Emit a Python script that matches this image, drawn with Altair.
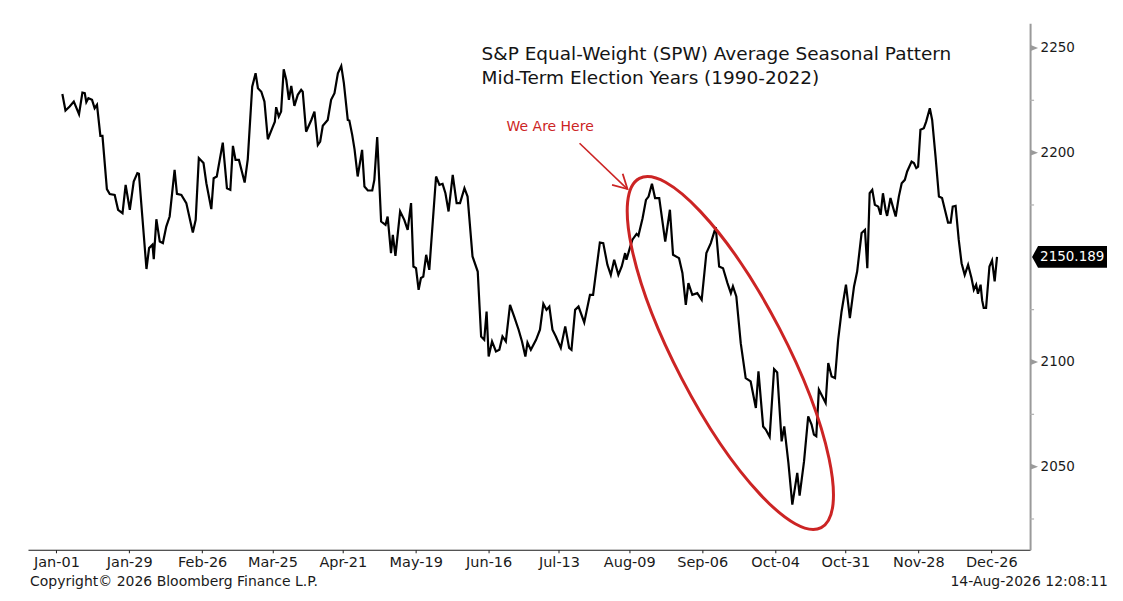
import altair as alt
import pandas as pd

# ---- data ----
days = [2.3,3.5,5.1,6.7,8.7,10.0,10.9,11.5,12.3,13.7,
        14.7,15.6,16.9,17.7,19.4,20.5,22.4,23.7,25.4,26.6,
        28.2,29.7,31.1,31.7,33.0,34.6,35.6,36.9,37.4,38.4,
        39.7,40.9,42.2,43.5,45.4,46.3,48.0,49.9,52.4,53.5,
        54.7,56.5,57.6,59.5,60.4,61.6,63.9,65.5,66.8,67.8,
        68.8,70.1,72.3,73.5,75.2,76.5,77.4,78.7,79.9,81.2,
        82.9,83.9,84.4,85.4,86.3,87.3,88.3,89.3,90.2,91.4,
        92.7,94.0,94.6,95.9,97.9,99.1,100.4,101.3,102.3,104.2,
        105.5,106.8,108.1,109.4,110.4,111.9,112.5,113.6,114.5,115.7,
        117.4,118.3,119.6,121.3,122.1,123.2,124.7,126.4,127.2,128.5,
        129.2,130.2,132.0,133.6,134.9,136.2,137.1,138.1,139.1,140.0,
        140.9,142.0,143.2,145.8,147.1,148.3,149.4,150.6,152.2,153.7,
        155.0,156.7,157.9,159.8,161.8,163.1,164.3,165.2,166.0,167.3,
        168.8,170.1,171.3,172.6,174.2,175.8,177.5,178.8,180.1,180.9,
        182.2,184.2,185.7,187.0,188.2,189.3,190.5,191.8,193.7,195.4,
        196.9,197.8,199.2,200.5,202.7,204.9,206.1,208.7,210.0,211.6,
        212.9,214.2,215.8,217.1,218.4,218.9,220.2,221.2,222.8,223.5,
        225.1,226.4,227.4,228.7,229.9,231.5,233.8,235.6,236.8,239.1,
        240.4,241.7,242.7,244.2,246.1,247.8,249.6,251.3,253.2,254.5,
        256.0,257.7,259.0,259.8,261.1,262.8,264.7,266.6,268.6,269.6,
        271.4,272.4,273.9,275.6,276.8,278.5,279.5,281.1,282.6,284.5,
        285.4,287.1,288.7,290.0,290.9,291.8,292.8,294.1,295.4,296.4,
        297.7,299.0,300.2,301.5,303.2,304.7,306.3,307.5,309.2,310.5,
        311.4,312.3,313.3,314.3,315.6,316.5,317.4,318.4,319.0,320.3,
        321.2,322.3,323.5,324.6,325.8,326.7,328.4,329.3,330.2,330.9,
        331.8,333.1,334.0,335.4,336.3,337.6,338.9,340.1,341.2,342.4,
        343.4,344.2,345.3,346.5,347.6,348.8,350.1,351.4,352.3,353.2,
        353.9,354.9,355.5,356.1,357.0,358.3,359.3,360.3,361.2]

values = [2228.0,2220.1,2222.0,2224.4,2218.4,2228.7,2228.4,2224.1,2226.0,2225.2,
          2221.2,2222.8,2208.0,2208.0,2182.6,2180.2,2179.8,2172.7,2171.1,2184.6,
          2172.7,2186.2,2190.2,2189.9,2169.5,2144.4,2154.4,2156.0,2149.1,2168.2,
          2157.5,2156.8,2164.7,2169.5,2191.8,2180.3,2179.8,2175.9,2161.8,2167.9,
          2197.4,2195.0,2185.4,2173.0,2187.8,2188.6,2204.8,2183.0,2182.2,2203.2,
          2196.5,2196.5,2185.7,2196.9,2231.5,2237.9,2230.8,2229.1,2224.4,2206.4,
          2211.7,2214.8,2221.7,2217.2,2219.6,2239.8,2234.7,2225.2,2231.9,2222.3,
          2227.6,2230.0,2229.1,2210.0,2215.6,2219.6,2203.7,2205.3,2212.8,2215.6,
          2225.2,2228.4,2237.9,2241.4,2233.2,2215.6,2215.3,2208.5,2201.6,2188.6,
          2201.3,2183.8,2181.9,2181.9,2187.0,2207.4,2167.1,2165.5,2169.5,2152.0,
          2160.7,2150.7,2171.9,2167.9,2163.1,2175.9,2145.6,2144.8,2134.5,2140.1,
          2140.8,2151.2,2144.0,2188.6,2184.6,2185.1,2180.6,2171.9,2189.4,2175.9,
          2175.9,2183.0,2179.0,2150.4,2143.2,2112.2,2110.6,2124.1,2102.6,2109.8,
          2105.0,2105.8,2112.2,2109.8,2127.3,2121.7,2115.4,2109.8,2102.6,2109.3,
          2105.8,2110.6,2115.4,2127.8,2124.9,2126.5,2115.4,2112.2,2106.7,2117.0,
          2106.7,2105.8,2124.9,2126.5,2118.9,2132.1,2132.1,2157.1,2156.8,2146.4,
          2141.6,2148.8,2141.6,2145.6,2152.0,2148.8,2154.4,2158.4,2161.2,2160.3,
          2168.7,2177.4,2179.0,2185.1,2178.3,2178.3,2157.5,2172.7,2151.2,2149.6,
          2142.5,2127.3,2137.7,2132.1,2132.9,2129.7,2152.0,2156.8,2164.4,2145.6,
          2144.8,2137.7,2132.9,2136.1,2131.3,2109.0,2092.3,2090.7,2078.0,2095.5,
          2069.2,2067.7,2064.2,2096.6,2095.0,2062.1,2069.2,2051.8,2031.9,2047.0,
          2036.2,2052.5,2074.0,2070.1,2065.3,2064.5,2086.8,2083.6,2080.4,2099.5,
          2093.1,2092.3,2110.6,2124.0,2136.9,2121.0,2136.1,2143.2,2161.6,2163.1,
          2144.8,2180.6,2182.2,2175.1,2174.2,2170.3,2180.6,2172.7,2169.8,2178.3,
          2174.2,2169.5,2179.0,2185.4,2187.0,2191.0,2195.7,2195.0,2192.6,2193.3,
          2210.9,2211.7,2214.8,2221.2,2215.6,2198.1,2179.0,2178.3,2172.7,2166.6,
          2166.6,2174.2,2174.6,2158.4,2147.2,2141.6,2146.4,2140.1,2134.5,2136.9,
          2132.6,2136.9,2129.4,2125.8,2125.8,2145.6,2148.5,2138.5,2150.189]

tick_days = [0, 28, 56, 83, 110, 138, 166, 193, 220, 248, 276, 303, 331, 359]
tick_labels = ["Jan-01", "Jan-29", "Feb-26", "Mar-25", "Apr-21", "May-19", "Jun-16",
               "Jul-13", "Aug-09", "Sep-06", "Oct-04", "Oct-31", "Nov-28", "Dec-26"]
y_ticks = [2050, 2100, 2200, 2250]
y_minor = [2025, 2075, 2125, 2175, 2225]
last_value = 2150.189
last_label = "2150.189"

title_lines = ["S&P Equal-Weight (SPW) Average Seasonal Pattern",
               "Mid-Term Election Years (1990-2022)"]
note_text = "We Are Here"
copyright_text = "Copyright\u00a9 2026 Bloomberg Finance L.P."
stamp_text = "14-Aug-2026 12:08:11"

# annotation anchors (in data units)
arrow_start = (200.9, 2204.5)
arrow_tip = (219.3, 2182.6)
ellipse_center = (258.8, 2104.3)

# ---- chart ----
W, H = 1003, 527
FONT = "DejaVu Sans"
RED = "#cc2424"
xs = alt.Scale(domain=[-10.9, 373.9], nice=False, zero=False)
ys = alt.Scale(domain=[2010.3, 2261.8], nice=False, zero=False)

label_expr = ("[" + ",".join(f"'{l}'" for l in tick_labels) + "][indexof(["
              + ",".join(str(d) for d in tick_days) + "], datum.value)]")

df = pd.DataFrame({"day": days, "value": values})

line = alt.Chart(df).mark_line(color="#000000", strokeWidth=2.2).encode(
    x=alt.X("day:Q", scale=xs, axis=alt.Axis(
        values=tick_days, labelExpr=label_expr, title=None, grid=False,
        domainColor="#1a1a1a", domainWidth=1.2, tickColor="#1a1a1a", tickSize=3,
        labelFontSize=14.5, labelColor="#1a1a1a", labelFont=FONT, labelPadding=3,
        labelOverlap=False, labelFlush=False)),
    y=alt.Y("value:Q", scale=ys, axis=alt.Axis(
        orient="right", values=y_ticks, format="d", ticks=False, title=None, grid=False,
        domainColor="#9a9a9a", domainWidth=2, labelPadding=10,
        labelFontSize=13.5, labelColor="#1a1a1a", labelFont=FONT,
        labelOverlap=False, labelFlush=False)),
)

# major tick markers (small triangles) and minor ticks on the right axis
tri = alt.Chart(pd.DataFrame({"v": y_ticks})).mark_point(
    shape="M 0 -0.4 L 1 0 L 0 0.4 Z", size=256, filled=True, color="#9a9a9a",
    opacity=1, strokeWidth=0).encode(x=alt.value(W), y=alt.Y("v:Q", scale=ys))
minor = alt.Chart(pd.DataFrame({"v": y_minor})).mark_rule(
    color="#b0b0b0", strokeWidth=1.2).encode(
    x=alt.value(W), x2=alt.value(W + 4), y=alt.Y("v:Q", scale=ys))

# last-value tag
tag_df = pd.DataFrame({"v": [last_value], "t": [last_label]})
tag = alt.Chart(tag_df).mark_point(
    shape="M 0 0 L 0.16 -0.29 L 2 -0.29 L 2 0.29 L 0.16 0.29 Z", size=5625,
    filled=True, color="#000000", opacity=1, strokeWidth=0).encode(
    x=alt.value(W + 2), y=alt.Y("v:Q", scale=ys))
tag_txt = alt.Chart(tag_df).mark_text(
    align="left", baseline="middle", color="#ffffff", fontSize=13.5, font=FONT).encode(
    x=alt.value(W + 10), y=alt.Y("v:Q", scale=ys), text="t:N")

# titles
tdf = pd.DataFrame({"t": title_lines, "yy": [31, 55]})
titles = alt.Chart(tdf).mark_text(
    align="left", baseline="middle", fontSize=18.5, font=FONT, color="#141414").encode(
    x=alt.value(454), y=alt.Y("yy:Q", scale=None), text="t:N")

note = alt.Chart(pd.DataFrame({"t": [note_text]})).mark_text(
    align="left", baseline="middle", fontSize=14, font=FONT, color=RED).encode(
    x=alt.value(479), y=alt.value(104), text="t:N")

# arrow
adf = pd.DataFrame({"x": [arrow_start[0]], "y": [arrow_start[1]],
                    "x2": [arrow_tip[0]], "y2": [arrow_tip[1]]})
arrow = alt.Chart(adf).mark_rule(color=RED, strokeWidth=1.6).encode(
    x=alt.X("x:Q", scale=xs), y=alt.Y("y:Q", scale=ys), x2="x2:Q", y2="y2:Q")
head = alt.Chart(adf).mark_point(
    shape="M -1 -0.55 L 0 0 L -1 0.55", size=784, filled=False, color=RED,
    strokeWidth=1.8, opacity=1, angle=43.8).encode(
    x=alt.X("x2:Q", scale=xs), y=alt.Y("y2:Q", scale=ys))

# ellipse
k = 0.5523
ry = 0.279
kr = round(k * ry, 4)
ell_path = (f"M 1 0 C 1 {kr} {k} {ry} 0 {ry} C -{k} {ry} -1 {kr} -1 0 "
            f"C -1 -{kr} -{k} -{ry} 0 -{ry} C {k} -{ry} 1 -{kr} 1 0 Z")
edf = pd.DataFrame({"x": [ellipse_center[0]], "y": [ellipse_center[1]]})
ellipse = alt.Chart(edf).mark_point(
    shape=ell_path, size=394 * 394, filled=False, color=RED, strokeWidth=3,
    opacity=1, angle=62.5).encode(
    x=alt.X("x:Q", scale=xs), y=alt.Y("y:Q", scale=ys))

# footer
foot_l = alt.Chart(pd.DataFrame({"t": [copyright_text]})).mark_text(
    align="left", baseline="middle", fontSize=14, font=FONT, color="#1a1a1a").encode(
    x=alt.value(2), y=alt.value(559), text="t:N")
foot_r = alt.Chart(pd.DataFrame({"t": [stamp_text]})).mark_text(
    align="right", baseline="middle", fontSize=14, font=FONT, color="#1a1a1a").encode(
    x=alt.value(1081), y=alt.value(559), text="t:N")

chart = alt.layer(
    line, tri, minor, ellipse, arrow, head, note, titles, tag, tag_txt, foot_l, foot_r
).properties(
    width=W, height=H,
    autosize=alt.AutoSizeParams(type="none"),
    padding={"left": 20, "top": 15, "right": 85, "bottom": 42},
    background="#ffffff",
).configure_view(strokeWidth=0)

chart.save("out.html", embed_options={"renderer": "svg", "actions": False})
